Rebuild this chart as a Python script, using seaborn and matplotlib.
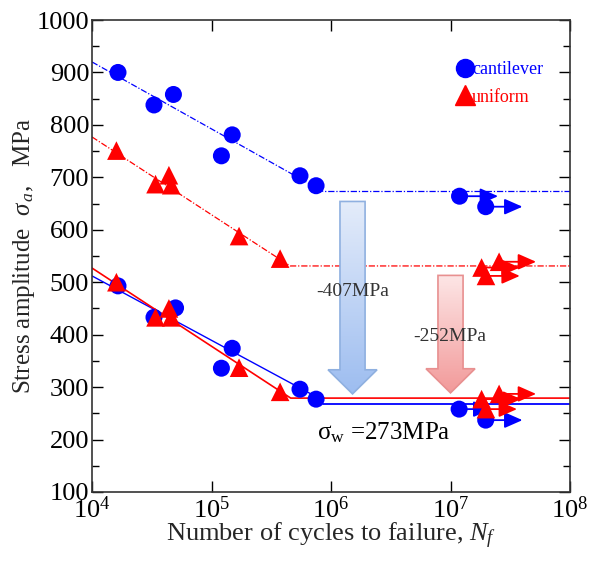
import numpy as np
import pandas as pd
import matplotlib
matplotlib.use('Agg')
import matplotlib.pyplot as plt
import seaborn as sns
from matplotlib.patches import Polygon
from matplotlib.lines import Line2D
from matplotlib.ticker import MultipleLocator, LogLocator, NullLocator

# ---- data ----
# as-received (upper) : cantilever / uniform
cant_N = [1.65e4, 3.3e4, 4.8e4, 1.21e5, 1.49e5, 5.5e5, 7.5e5]
cant_S = [900, 838, 858, 741, 781, 703, 684]
unif_N = [1.6e4, 3.4e4, 4.4e4, 4.6e4, 1.7e5, 3.75e5]
unif_S = [751, 687, 704, 685, 588, 545]

# treated (lower) : cantilever / uniform
cant2_N = [1.65e4, 3.3e4, 5.0e4, 1.21e5, 1.49e5, 5.5e5, 7.5e5]
cant2_S = [493, 433, 451, 336, 374, 296, 277]
unif2_N = [1.6e4, 3.4e4, 4.4e4, 4.6e4, 1.7e5, 3.75e5]
unif2_S = [500, 433, 450, 433, 337, 291]

# run-outs (start N, S, arrow end N)
cant_run_N = [1.19e7, 1.97e7]
cant_run_S = [664, 644]
cant_run_end = [2.5e7, 4.0e7]
unif_run_N = [1.82e7, 2.55e7, 1.98e7]
unif_run_S = [528, 539, 512]
unif_run_end = [3.8e7, 5.2e7, 3.8e7]
cant2_run_N = [1.18e7, 1.97e7]
cant2_run_S = [258, 237]
cant2_run_end = [2.2e7, 4.0e7]
unif2_run_N = [1.82e7, 2.55e7, 1.98e7]
unif2_run_S = [277, 287, 258]
unif2_run_end = [3.9e7, 5.2e7, 3.6e7]

# fitted S-N lines (start, knee, end)
fit_N = [1e4, 8.6e5, 1e8]
fit_cant_S = [920, 673, 673]
fitu_N = [1e4, 4.55e5, 1e8]
fit_unif_S = [777, 531, 531]
fit2c_N = [1e4, 8.5e5, 8.5e5, 1e8]
fit2_cant_S = [512, 275, 268, 268]
fit2u_N = [1e4, 4.6e5, 1e8]
fit2_unif_S = [527, 279, 279]

# reduction arrows: (log N centre, top S, tip S)
arrow_blue = (6.18, 654, 287)
arrow_red = (7.00, 513, 289)

BLUE = '#0000ff'
RED = '#ff0000'

sns.set_style('ticks')
plt.rcParams['font.family'] = ['Liberation Serif', 'DejaVu Serif']
plt.rcParams['mathtext.fontset'] = 'custom'
plt.rcParams['mathtext.rm'] = 'Liberation Serif'
plt.rcParams['mathtext.it'] = 'Liberation Serif:italic'

fig = plt.figure(figsize=(6.03, 5.62), dpi=100)
ax = fig.add_axes([0.1526, 0.1246, 0.7927, 0.8398])
ax.set_xscale('log')

# fit lines
dd = (0, (5, 1.5, 1, 1.5))
sns.lineplot(x=fit_N, y=fit_cant_S, color=BLUE, lw=0.9, ax=ax, linestyle=dd, sort=False)
sns.lineplot(x=fitu_N, y=fit_unif_S, color=RED, lw=0.9, ax=ax, linestyle=dd, sort=False)
ax.plot(fit2c_N[:2], fit2_cant_S[:2], color=BLUE, lw=1)
ax.plot(fit2c_N[2:], fit2_cant_S[2:], color=BLUE, lw=1.3)
sns.lineplot(x=fit2u_N, y=fit2_unif_S, color=RED, lw=1.2, ax=ax, sort=False)

# big reduction arrows with gradient fill
def big_arrow(spec, c_top, c_bot, edge, bw=0.105, hw=0.205, hl=46):
    xc, top, tip = spec
    head = tip + hl
    xs = [xc - bw, xc + bw, xc + bw, xc + hw, xc, xc - hw, xc - bw]
    ys = [top, top, head, head, tip, head, head]
    verts = [(10 ** x, y) for x, y in zip(xs, ys)]
    poly = Polygon(verts, closed=True, facecolor='none', edgecolor=edge, lw=1.2, zorder=3)
    ax.add_patch(poly)
    grad = np.linspace(0, 1, 256)[:, None]
    cmap = matplotlib.colors.LinearSegmentedColormap.from_list('g', [c_top, c_bot])
    im = ax.imshow(grad, cmap=cmap, aspect='auto', origin='upper',
                   extent=[10 ** (xc - hw), 10 ** (xc + hw), tip, top], zorder=2.5)
    im.set_clip_path(poly)

big_arrow(arrow_blue, '#e4ecfa', '#9dbdf0', '#8fb0e0')
big_arrow(arrow_red, '#fde6e6', '#f29a9a', '#e89090')

# run-out arrows
def runouts(Ns, Ss, ends, color):
    for n, s, e in zip(Ns, Ss, ends):
        ax.annotate('', xy=(e, s), xytext=(n, s),
                    arrowprops=dict(arrowstyle='-|>,head_length=0.5,head_width=0.22',
                                    color=color, lw=1.3,
                                    mutation_scale=22, shrinkA=0, shrinkB=0),
                    zorder=4)

runouts(cant_run_N, cant_run_S, cant_run_end, BLUE)
runouts(unif_run_N, unif_run_S, unif_run_end, RED)
runouts(cant2_run_N, cant2_run_S, cant2_run_end, BLUE)
runouts(unif2_run_N, unif2_run_S, unif2_run_end, RED)

# points
circ_N = cant_N + cant_run_N + cant2_N + cant2_run_N
circ_S = cant_S + cant_run_S + cant2_S + cant2_run_S
tri_N = unif_N + unif_run_N + unif2_N + unif2_run_N
tri_S = unif_S + unif_run_S + unif2_S + unif2_run_S
pts = pd.DataFrame({'N': circ_N + tri_N, 'S': circ_S + tri_S,
                    'type': ['cantilever'] * len(circ_N) + ['uniform'] * len(tri_N)})
sns.scatterplot(data=pts[pts['type'] == 'cantilever'], x='N', y='S', marker='o', s=150,
                color=BLUE, edgecolor='none', ax=ax, zorder=5, legend=False)
sns.scatterplot(data=pts[pts['type'] == 'uniform'], x='N', y='S', marker='^', s=180,
                color=RED, edgecolor='none', ax=ax, zorder=5, legend=False)

# axes
ax.set_xlim(1e4, 1e8)
ax.set_ylim(100, 1000)
ax.yaxis.set_major_locator(MultipleLocator(100))
ax.yaxis.set_minor_locator(MultipleLocator(50))
ax.xaxis.set_major_locator(LogLocator(base=10, numticks=10))
ax.xaxis.set_minor_locator(NullLocator())
ax.tick_params(which='both', direction='in', top=True, right=True, labelsize=19, colors='black')
ax.tick_params(which='major', length=8, width=1)
ax.tick_params(which='minor', length=5, width=1)
ax.tick_params(axis='y', pad=2)
ax.tick_params(axis='x', pad=3)
for sp in ax.spines.values():
    sp.set_linewidth(1.2)
    sp.set_color('#333333')

ax.set_xlabel('Number of cycles to failure, $N_f$', fontsize=19, labelpad=-1)
ax.set_ylabel(r'Stress amplitude  $\sigma_{\,a}$,   MPa', fontsize=18, labelpad=0)

# text
ax.text(10 ** 6.18, 482, '-407MPa', fontsize=14, color='#333333', ha='center', va='center', zorder=6)
ax.text(10 ** 6.99, 396, '-252MPa', fontsize=14, color='#333333', ha='center', va='center', zorder=6)
ax.text(10 ** 5.88, 213, r'σ$_{\rm w}$ =273MPa', fontsize=18, color='black', ha='left', va='center')

# legend
handles = [Line2D([], [], marker='o', ls='none', color=BLUE, markersize=13),
           Line2D([], [], marker='^', ls='none', color=RED, markersize=14)]
ax.legend(handles, ['cantilever', 'uniform'], loc='upper right', frameon=False,
          handletextpad=-0.1, handlelength=1.0, fontsize=13, labelcolor=[BLUE, RED],
          borderaxespad=0.3, labelspacing=0.6, bbox_to_anchor=(0.97, 0.94))

fig.savefig('out.png', dpi=100)
